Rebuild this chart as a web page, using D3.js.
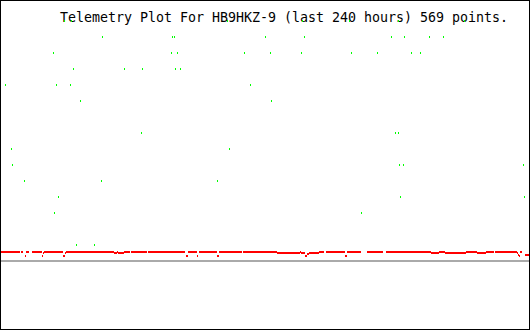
<!DOCTYPE html>
<html><head><meta charset="utf-8">
<script src="https://cdn.jsdelivr.net/npm/d3@7"></script>
<style>body{margin:0;background:#fff}svg{display:block}</style>
</head><body><svg id="c" width="530" height="330"></svg>
<script>
const titleText = "Telemetry Plot For HB9HKZ-9 (last 240 hours) 569 points.";
const hoursDomain = [0, 240];
const valueDomain = [0, 240];

// green channel: time (hours) and value
const greenHours = [28.64,31.82,102.73,136.82,158.18,180.45,210.45,
  45.91,77.73,78.64,120,137.73,177.27,183.18,194.55,200.91,
  23.64,77.27,80,110.45,122.27,136.36,159.09,170.91,186.36,190.45,
  32.73,55.91,64.09,79.09,81.36,
  1.82,25,31.36,113.18,
  35.91,122.73,
  63.64,179.09,180.45,
  4.55,103.64,
  5,180.91,182.73,237.27,
  10.45,45.45,98.18,
  25.91,181.36,237.73,
  24.09,163.64,
  34.09,42.27];
const greenValues = [240,240,240,240,240,240,240,
  224,224,224,224,224,224,224,224,224,
  208,208,208,208,208,208,208,208,208,208,
  192,192,192,192,192,
  176,176,176,176,
  160,160,
  128,128,128,
  112,112,
  96,96,96,96,
  80,80,80,
  64,64,64,
  48,48,
  16,16];

// red channel: runs of consecutive samples (start hour, end hour, value)
const redStart = [0,9.09,10.91,11.36,14.09,18.64,19.09,19.55,28.18,29.09,29.55,51.36,52.73,53.18,55.91,59.09,66.82,84.09,85,89.09,90,98.18,99.09,110,125.45,135.91,136.36,138.18,139.09,140,144.55,147.73,156.36,157.27,166.36,175,195.45,199.09,201.82,211.36,216.36,220.45,224.55,234.55,235,235.45,235.91,238.18];
const redEnd   = [8.64,10,11.36,12.73,18.64,19.09,19.55,28.18,29.09,29.55,51.36,52.73,53.18,55.91,58.64,66.36,83.64,85,89.09,89.55,98.18,99.09,109.55,125.45,135.91,136.36,138.18,139.09,140,144.55,146.82,156.36,157.27,163.64,173.64,195.45,199.09,201.82,211.36,216.36,220.45,224.09,234.55,235,235.45,235.91,236.82,240];
const redValues= [9,9,5,9,9,5,8,9,5,8,9,8,9,8,9,9,9,5,9,5,9,5,9,9,8,9,8,5,7,8,9,9,5,9,9,9,8,9,8,9,8,9,9,8,6,5,9,6];

const svg = d3.select("#c");
const W = 530, H = 330;
const x = d3.scaleLinear().domain(hoursDomain).range([1, 529]);
const y = d3.scaleLinear().domain(valueDomain).range([260, 20]);

svg.append("rect").attr("width", W).attr("height", H).attr("fill", "#fff");

// baseline
svg.append("rect").attr("x", 1).attr("y", y(0)).attr("width", 528).attr("height", 2)
  .attr("fill", "#aaaaaa").attr("shape-rendering", "crispEdges");

svg.append("text").attr("x", 60).attr("y", 22)
  .attr("font-family", "DejaVu Sans Mono, Liberation Mono, monospace")
  .attr("font-size", 13.3).attr("fill", "#000")
  .attr("textLength", 448).attr("lengthAdjust", "spacing")
  .text(titleText);

const red = redStart.map((s, i) => ({s, e: redEnd[i], v: redValues[i]}));
svg.append("g").attr("shape-rendering", "crispEdges").selectAll("rect").data(red).join("rect")
  .attr("x", d => Math.round(x(d.s)))
  .attr("y", d => Math.round(y(d.v)))
  .attr("width", d => Math.max(1, Math.round(x(d.e)) - Math.round(x(d.s))))
  .attr("height", 2).attr("fill", "#ff0000");

const green = greenHours.map((h, i) => ({h, v: greenValues[i]}));
svg.append("g").attr("shape-rendering", "crispEdges").selectAll("rect").data(green).join("rect")
  .attr("x", d => Math.round(x(d.h)))
  .attr("y", d => Math.round(y(d.v)))
  .attr("width", 1).attr("height", 2).attr("fill", "#00ff00");

// frame
svg.append("rect").attr("x", 0.5).attr("y", 0.5).attr("width", 529).attr("height", 329)
  .attr("fill", "none").attr("stroke", "#000").attr("stroke-width", 1);
</script></body></html>
